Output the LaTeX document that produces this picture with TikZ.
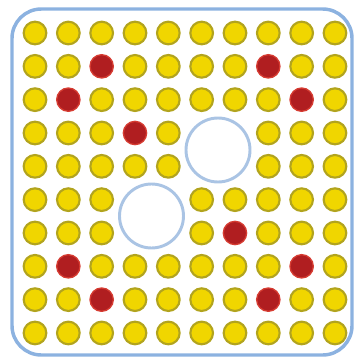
\documentclass[tikz,border=0pt]{standalone}
\begin{document}
\begin{tikzpicture}[x=0.75pt,y=-0.75pt,
  yel/.style={circle,draw=dotedge,fill=dotyellow,line width=1.6pt,minimum size=17pt,inner sep=0pt},
  redd/.style={circle,draw=rededge,fill=dotred,line width=1pt,minimum size=17.5pt,inner sep=0pt},
  hole/.style={circle,draw=holeedge,fill=white,line width=2.2pt,minimum size=48pt,inner sep=0pt},
  frame/.style={draw=frameblue,line width=2.6pt,rounded corners=22pt}]
\definecolor{dotyellow}{RGB}{240,214,0}
\definecolor{dotedge}{RGB}{178,164,30}
\definecolor{dotred}{RGB}{176,30,32}
\definecolor{rededge}{RGB}{214,60,50}
\definecolor{holeedge}{RGB}{170,196,228}
\definecolor{frameblue}{RGB}{140,178,224}
\useasboundingbox (0,0) rectangle (358,360);
\draw[frame] (12,9) rectangle (352,355);
\foreach \r in {0,...,9}{
  \foreach \c in {0,...,9}{
    \pgfmathtruncatemacro{\skip}{
      ((\r==3 || \r==4) && (\c==5 || \c==6)) || ((\r==5 || \r==6) && (\c==3 || \c==4)) ? 1 : 0}
    \pgfmathtruncatemacro{\isred}{
      (\r==1 && (\c==2 || \c==7)) || (\r==2 && (\c==1 || \c==8)) || (\r==3 && \c==3)
      || (\r==6 && \c==6) || (\r==7 && (\c==1 || \c==8)) || (\r==8 && (\c==2 || \c==7)) ? 1 : 0}
    \ifnum\skip=0
      \ifnum\isred=1
        \node[redd] (d\r\c) at ({35+33.33*\c},{33+33.33*\r}) {};
      \else
        \node[yel] (d\r\c) at ({35+33.33*\c},{33+33.33*\r}) {};
      \fi
    \fi
  }
}
\node[hole] (h1) at (218,150) {};
\node[hole] (h2) at (151.5,216) {};
\end{tikzpicture}
\end{document}
